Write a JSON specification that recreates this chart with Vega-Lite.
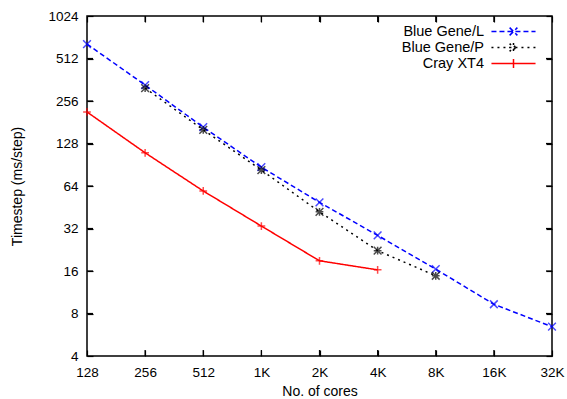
{
  "$schema": "https://vega.github.io/schema/vega-lite/v6.json",
  "width": 465,
  "height": 340,
  "autosize": {"type": "none"},
  "padding": {"left": 87, "top": 16, "right": 15, "bottom": 43},
  "config": {
    "font": "Liberation Sans",
    "view": {"stroke": "#000", "strokeWidth": 1.5},
    "axis": {"grid": false, "domain": false, "ticks": true, "zindex": 2, "offset": -6, "tickColor": "#000000", "tickOpacity": 1, "tickSize": 6, "tickWidth": 1.2, "labelFlush": false, "labelColor": "#000", "labelFontSize": 13.5, "titleFontSize": 14, "titleFontWeight": "normal", "titleColor": "#000", "labelPadding": 9}
  },
  "data": {"values": [
    {"series": "Blue Gene/L", "cores": 128, "t": 648},
    {"series": "Blue Gene/L", "cores": 256, "t": 332},
    {"series": "Blue Gene/L", "cores": 512, "t": 167},
    {"series": "Blue Gene/L", "cores": 1024, "t": 87},
    {"series": "Blue Gene/L", "cores": 2048, "t": 49},
    {"series": "Blue Gene/L", "cores": 4096, "t": 28.6},
    {"series": "Blue Gene/L", "cores": 8192, "t": 16.5},
    {"series": "Blue Gene/L", "cores": 16384, "t": 9.3},
    {"series": "Blue Gene/L", "cores": 32768, "t": 6.45},
    {"series": "Blue Gene/P", "cores": 256, "t": 316},
    {"series": "Blue Gene/P", "cores": 512, "t": 160},
    {"series": "Blue Gene/P", "cores": 1024, "t": 83},
    {"series": "Blue Gene/P", "cores": 2048, "t": 42},
    {"series": "Blue Gene/P", "cores": 4096, "t": 22.3},
    {"series": "Blue Gene/P", "cores": 8192, "t": 14.8},
    {"series": "Cray XT4", "cores": 128, "t": 214},
    {"series": "Cray XT4", "cores": 256, "t": 110},
    {"series": "Cray XT4", "cores": 512, "t": 59},
    {"series": "Cray XT4", "cores": 1024, "t": 33.3},
    {"series": "Cray XT4", "cores": 2048, "t": 18.9},
    {"series": "Cray XT4", "cores": 4096, "t": 16.3}
  ]},
  "layer": [
    {
      "mark": {"type": "line", "strokeWidth": 1.5, "clip": false},
      "encoding": {
        "x": {"field": "cores", "type": "quantitative", "scale": {"type": "log", "base": 2, "domain": [128, 32768], "nice": false},
              "axis": {"values": [128, 256, 512, 1024, 2048, 4096, 8192, 16384, 32768], "labelExpr": "datum.value >= 1024 ? (datum.value/1024) + 'K' : datum.label", "title": "No. of cores", "titlePadding": 6, "ticks": true}},
        "y": {"field": "t", "type": "quantitative", "scale": {"type": "log", "base": 2, "domain": [4, 1024], "nice": false},
              "axis": {"values": [4, 8, 16, 32, 64, 128, 256, 512, 1024], "format": "d", "title": "Timestep (ms/step)", "titlePadding": 23, "ticks": true}},
        "color": {"field": "series", "type": "nominal", "scale": {"domain": ["Blue Gene/L", "Blue Gene/P", "Cray XT4"], "range": ["#0000ff", "#000000", "#ff0000"]},
                  "legend": {"title": null, "orient": "none", "legendX": 418, "legendY": 7, "padding": 0, "symbolType": "M-3,0L3,0", "symbolSize": 216, "symbolStrokeWidth": 1.5, "labelFontSize": 14.5, "labelColor": "#000", "labelAlign": "right", "labelOffset": -38, "rowPadding": 0, "labelLimit": 200,
                    "encode": {"symbols": {"update": {"shape": {"signal": "datum.value === 'Blue Gene/L' ? 'M-3,0L3,0M-0.53,-0.53L0.53,0.53M-0.53,0.53L0.53,-0.53' : datum.value === 'Blue Gene/P' ? 'M-3,0L3,0M-0.53,-0.53L0.53,0.53M-0.53,0.53L0.53,-0.53M-0.6,0L0.6,0M0,-0.6L0,0.6' : 'M-3,0L3,0M0,-0.6L0,0.6'"}}}}}},
        "strokeDash": {"field": "series", "type": "nominal", "scale": {"domain": ["Blue Gene/L", "Blue Gene/P", "Cray XT4"], "range": [[5, 3], [2, 4], [1, 0]]}}
      }
    },
    {
      "transform": [{"filter": "datum.series === 'Blue Gene/L'"}],
      "mark": {"type": "point", "filled": false, "strokeWidth": 1.5, "size": 60, "clip": false, "color": "#0000ff", "shape": "M-1,-1L1,1M-1,1L1,-1"},
      "encoding": {
        "x": {"field": "cores", "type": "quantitative", "axis": null},
        "y": {"field": "t", "type": "quantitative", "axis": null}
      }
    },
    {
      "transform": [{"filter": "datum.series === 'Blue Gene/P'"}],
      "mark": {"type": "point", "filled": false, "strokeWidth": 1.5, "size": 60, "clip": false, "color": "#000000", "shape": "M-1,-1L1,1M-1,1L1,-1M-1,0L1,0M0,-1L0,1"},
      "encoding": {
        "x": {"field": "cores", "type": "quantitative", "axis": null},
        "y": {"field": "t", "type": "quantitative", "axis": null}
      }
    },
    {
      "transform": [{"filter": "datum.series === 'Cray XT4'"}],
      "mark": {"type": "point", "filled": false, "strokeWidth": 1.5, "size": 60, "clip": false, "color": "#ff0000", "shape": "M-1,0L1,0M0,-1L0,1"},
      "encoding": {
        "x": {"field": "cores", "type": "quantitative", "axis": null},
        "y": {"field": "t", "type": "quantitative", "axis": null}
      }
    },
    {
      "data": {"values": [
        {"cores": 256, "t": 4}, {"cores": 512, "t": 4}, {"cores": 1024, "t": 4}, {"cores": 2048, "t": 4}, {"cores": 4096, "t": 4}, {"cores": 8192, "t": 4}, {"cores": 16384, "t": 4},
        {"cores": 256, "t": 1024}, {"cores": 512, "t": 1024}, {"cores": 1024, "t": 1024}, {"cores": 2048, "t": 1024}, {"cores": 4096, "t": 1024}, {"cores": 8192, "t": 1024}, {"cores": 16384, "t": 1024}
      ]},
      "mark": {"type": "tick", "orient": "vertical", "size": 12, "thickness": 1.2, "color": "#000000", "opacity": 1, "clip": true},
      "encoding": {
        "x": {"field": "cores", "type": "quantitative", "axis": null},
        "y": {"field": "t", "type": "quantitative", "axis": null}
      }
    },
    {
      "data": {"values": [
        {"cores": 128, "t": 8}, {"cores": 128, "t": 16}, {"cores": 128, "t": 32}, {"cores": 128, "t": 64}, {"cores": 128, "t": 128}, {"cores": 128, "t": 256}, {"cores": 128, "t": 512},
        {"cores": 32768, "t": 8}, {"cores": 32768, "t": 16}, {"cores": 32768, "t": 32}, {"cores": 32768, "t": 64}, {"cores": 32768, "t": 128}, {"cores": 32768, "t": 256}, {"cores": 32768, "t": 512}
      ]},
      "mark": {"type": "tick", "orient": "horizontal", "size": 12, "thickness": 1.2, "color": "#000000", "opacity": 1, "clip": true},
      "encoding": {
        "x": {"field": "cores", "type": "quantitative", "axis": null},
        "y": {"field": "t", "type": "quantitative", "axis": null}
      }
    },
    {
      "mark": {"type": "point", "opacity": 0},
      "encoding": {
        "x": {"field": "cores", "type": "quantitative", "axis": {"orient": "top", "values": [128, 256, 512, 1024, 2048, 4096, 8192, 16384, 32768], "labels": false, "title": null, "ticks": true}},
        "y": {"field": "t", "type": "quantitative", "axis": {"orient": "right", "values": [4, 8, 16, 32, 64, 128, 256, 512, 1024], "labels": false, "title": null, "ticks": true}}
      }
    }
  ],
  "resolve": {"axis": {"x": "independent", "y": "independent"}}
}
